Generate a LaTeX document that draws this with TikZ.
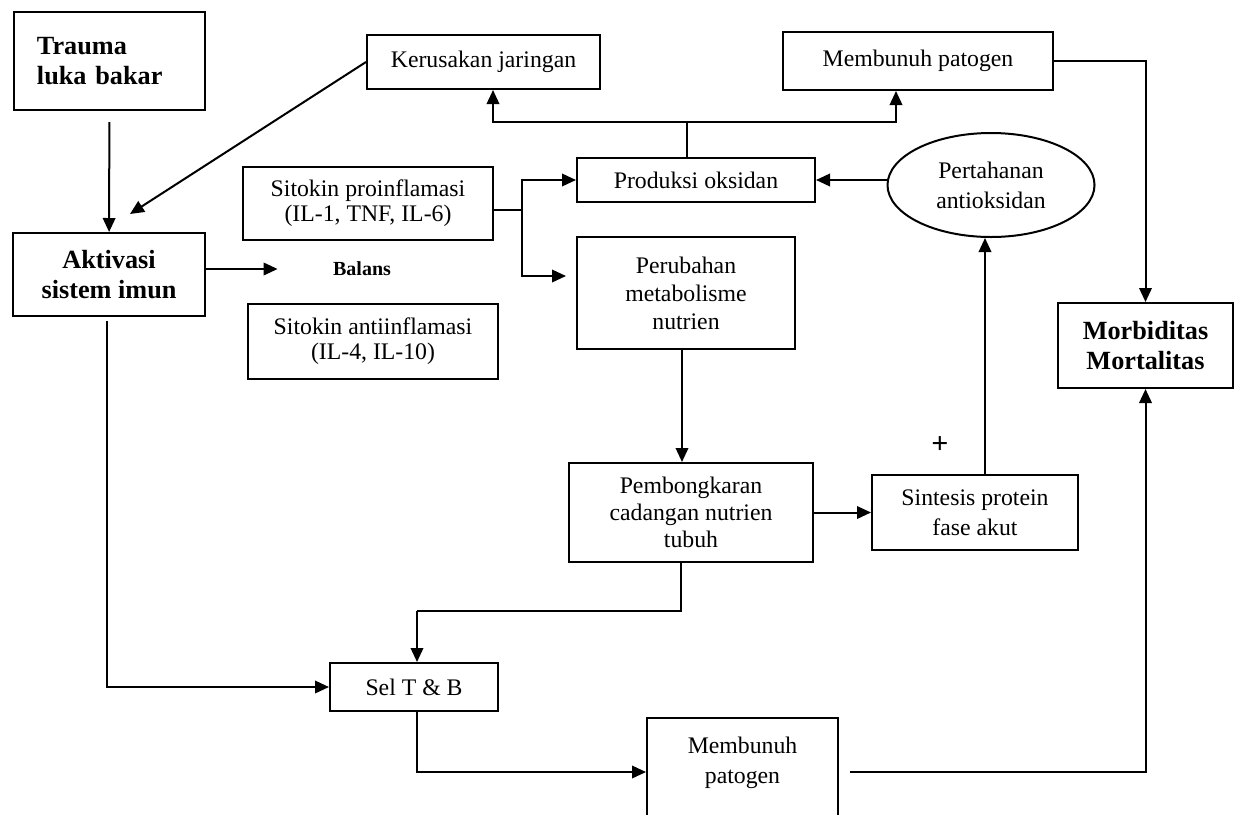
\documentclass[tikz,border=0pt]{standalone}
\usepackage{fontspec}
\setmainfont{Liberation Serif}
\usetikzlibrary{arrows.meta,shapes.geometric}

\begin{document}
\begin{tikzpicture}[
  x=0.4pt, y=-0.4pt,
  font=\fontsize{9.5}{12}\selectfont,
  >={Triangle[length=5.6pt,width=5pt]},
  box/.style={draw, line width=0.8pt, inner sep=0pt, align=center},
  bbox/.style={box, font=\fontsize{10.5}{12}\selectfont\bfseries},
  conn/.style={->, line width=0.8pt},
  link/.style={line width=0.8pt},
]
\useasboundingbox (0,0) rectangle (1238,814);
\clip (0,0) rectangle (1238,814);

% left column
\node[bbox, minimum width=76.4pt, minimum height=39.2pt, text width=58pt, align=left] (trauma) at (109.5,61) {Trauma\\luka bakar};
\node[bbox, minimum width=76.8pt, minimum height=33.2pt] (aktiv) at (109,274.5) {Aktivasi\\sistem imun};

% cytokines
\node[box, minimum width=100pt, minimum height=29.2pt, font=\fontsize{9.5}{10}\selectfont] (prokin) at (368,203.5) {Sitokin proinflamasi\\(IL-1, TNF, IL-6)};
\node[box, minimum width=100pt, minimum height=30pt, font=\fontsize{9.5}{10}\selectfont] (antikin) at (373,341) {Sitokin antiinflamasi\\(IL-4, IL-10)};
\node[inner sep=0pt, font=\fontsize{8}{10}\selectfont\bfseries] (balans) at (362,269) {Balans};

% top row
\node[box, minimum width=93.2pt, minimum height=21.6pt] (kerus) at (483.5,62) {Kerusakan jaringan};
\node[box, minimum width=108pt, minimum height=23.2pt] (membA) at (918,61) {Membunuh patogen};

% middle
\node[box, minimum width=95.2pt, minimum height=17.6pt] (prod) at (696,180) {Produksi oksidan};
\node[ellipse, draw, line width=0.8pt, inner sep=0pt, align=center,
      minimum width=82.8pt, minimum height=41.6pt] (pert) at (991,185) {Pertahanan\\antioksidan};
\node[box, minimum width=87.2pt, minimum height=44.8pt, font=\fontsize{9.5}{11.2}\selectfont] (perub) at (686,293) {Perubahan\\metabolisme\\nutrien};
\node[box, minimum width=97.6pt, minimum height=39.6pt, font=\fontsize{9.5}{10.8}\selectfont] (pemb) at (691,512.5) {Pembongkaran\\cadangan nutrien\\tubuh};
\node[box, minimum width=82.4pt, minimum height=30pt] (sint) at (975,512.5) {Sintesis protein\\fase akut};
\node[font=\fontsize{12}{12}\selectfont\bfseries] (plus) at (940,445) {+};
\node[bbox, minimum width=70pt, minimum height=34pt] (morb) at (1145.5,345.5) {Morbiditas\\Mortalitas};

% bottom
\node[box, minimum width=67.2pt, minimum height=19.2pt] (sel) at (414,687) {Sel T \& B};
\node[box, anchor=north, minimum width=76.4pt, inner ysep=7.5pt, text depth=15pt] (membB) at (742.5,717) {Membunuh\\patogen};

% connectors
\coordinate (split) at (522,210);
\coordinate (join) at (687,122);
\coordinate (bend) at (417,611);
\draw[conn, shorten <=4.4pt] (trauma) -- (aktiv);
\draw[conn] (kerus.west) -- ([xshift=8.4pt,yshift=7.2pt]aktiv.north);
\draw[conn, shorten >=22pt] (aktiv.east |- balans.west) -- (balans.west);
\draw[link] (prokin.east |- split) -- (split);
\draw[conn] (split) |- (prod.west);
\draw[conn, shorten >=4pt] (split) |- ([yshift=6.8pt]perub.west);
\draw[link] (join) -- (join |- prod.north);
\draw[conn] (join) -| ([xshift=3.8pt]kerus.south);
\draw[conn] (join) -| ([xshift=-8.8pt]membA.south);
\draw[conn] (pert.west |- prod.east) -- (prod.east);
\draw[conn] (membA.east) -| (morb.north);
\draw[conn] ([xshift=-1.6pt]perub.south) -- ([xshift=-1.6pt]perub.south |- pemb.north);
\draw[conn] (pemb.east) -- (sint.west);
\draw[conn] ([xshift=4pt]sint.north) -- ([xshift=4pt]sint.north |- pert.south);
\draw[link] ([xshift=-4pt]pemb.south) |- (bend);
\draw[conn] (bend) -- (bend |- sel.north);
\draw[conn, shorten <=1.6pt] ([xshift=-0.8pt]aktiv.south) |- (sel.west);
\draw[conn] ([xshift=1.2pt]sel.south) |- (membB.west |- 0,772);
\draw[conn, shorten <=4.4pt] (membB.east |- 0,772) -| (morb.south);
\end{tikzpicture}
\end{document}
